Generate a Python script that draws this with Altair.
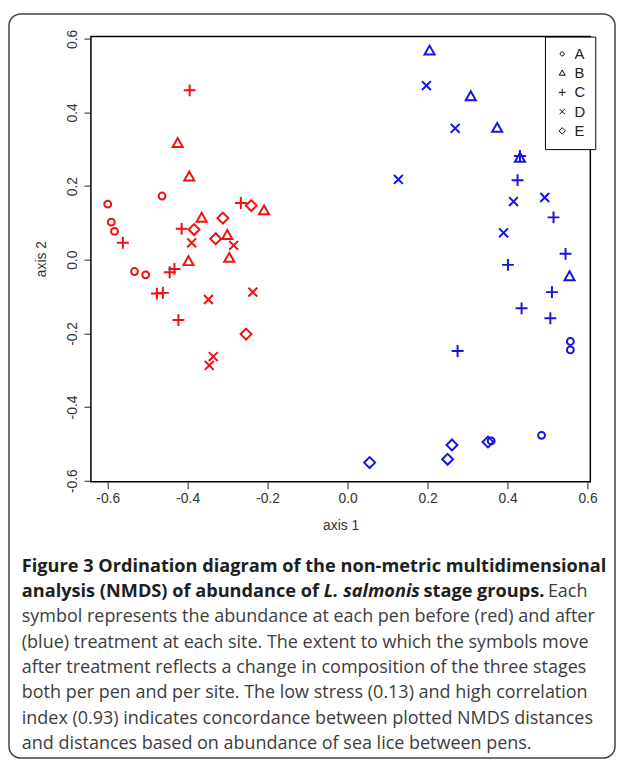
import altair as alt
import pandas as pd

# ---------------- data ----------------
stage_names = ["A", "B", "C", "D", "E"]
time_names = ["before", "after"]

# before treatment (red)
before_A_x = [-0.600, -0.591, -0.583, -0.464, -0.533, -0.505]
before_A_y = [0.151, 0.102, 0.077, 0.173, -0.032, -0.041]
before_B_x = [-0.425, -0.396, -0.365, -0.209, -0.301, -0.398, -0.296]
before_B_y = [0.316, 0.225, 0.113, 0.133, 0.066, -0.005, 0.004]
before_C_x = [-0.395, -0.562, -0.267, -0.415, -0.445, -0.433, -0.477, -0.462, -0.423]
before_C_y = [0.460, 0.046, 0.154, 0.084, -0.034, -0.025, -0.092, -0.090, -0.164]
before_D_x = [-0.390, -0.285, -0.237, -0.348, -0.336, -0.346]
before_D_y = [0.046, 0.039, -0.088, -0.108, -0.263, -0.287]
before_E_x = [-0.241, -0.312, -0.384, -0.330, -0.254]
before_E_y = [0.147, 0.113, 0.082, 0.057, -0.202]

# after treatment (blue)
after_A_x = [0.557, 0.557, 0.359, 0.485]
after_A_y = [-0.222, -0.245, -0.492, -0.477]
after_B_x = [0.205, 0.308, 0.374, 0.431, 0.555]
after_B_y = [0.567, 0.443, 0.357, 0.276, -0.046]
after_C_x = [0.431, 0.425, 0.515, 0.545, 0.401, 0.511, 0.435, 0.507, 0.275]
after_C_y = [0.282, 0.216, 0.115, 0.016, -0.014, -0.088, -0.132, -0.159, -0.248]
after_D_x = [0.197, 0.269, 0.127, 0.415, 0.493, 0.390]
after_D_y = [0.473, 0.357, 0.218, 0.158, 0.169, 0.073]
after_E_x = [0.055, 0.261, 0.250, 0.351]
after_E_y = [-0.551, -0.503, -0.542, -0.495]

tick_values = [-0.6, -0.4, -0.2, 0.0, 0.2, 0.4, 0.6]

caption_line1 = "Figure 3 Ordination diagram of the non-metric multidimensional"
caption_line2 = ["analysis (NMDS) of abundance of", "L. salmonis", "stage groups.", "Each"]
caption_rest = [
    "symbol represents the abundance at each pen before (red) and after",
    "(blue) treatment at each site. The extent to which the symbols move",
    "after treatment reflects a change in composition of the three stages",
    "both per pen and per site. The low stress (0.13) and high correlation",
    "index (0.93) indicates concordance between plotted NMDS distances",
    "and distances based on abundance of sea lice between pens.",
]

# ---------------- table ----------------
rows = []
groups = {
    "before": {"A": (before_A_x, before_A_y), "B": (before_B_x, before_B_y),
               "C": (before_C_x, before_C_y), "D": (before_D_x, before_D_y),
               "E": (before_E_x, before_E_y)},
    "after": {"A": (after_A_x, after_A_y), "B": (after_B_x, after_B_y),
              "C": (after_C_x, after_C_y), "D": (after_D_x, after_D_y),
              "E": (after_E_x, after_E_y)},
}
for t, d in groups.items():
    for s, (xs, ys) in d.items():
        for xv, yv in zip(xs, ys):
            rows.append({"axis1": xv, "axis2": yv, "stage": s, "time": t})
df = pd.DataFrame(rows)

# R-like symbols (pch 1..5) as paths
shape_paths = [
    "M0.58,0A0.58,0.58,0,1,1,-0.58,0A0.58,0.58,0,1,1,0.58,0Z",
    "M0,-0.9L0.85,0.6L-0.85,0.6Z",
    "M-1,0L1,0M0,-1L0,1",
    "M-0.75,-0.75L0.75,0.75M-0.75,0.75L0.75,-0.75",
    "M0,-0.92L0.92,0L0,0.92L-0.92,0Z",
]

label_expr = "datum.value < 0 ? '-' + format(-datum.value, '.1f') : format(datum.value, '.1f')"

points = alt.Chart(df).mark_point(filled=False, size=144, strokeWidth=2, opacity=1).encode(
    x=alt.X("axis1:Q",
            scale=alt.Scale(domain=[-0.642, 0.607], nice=False, zero=False),
            axis=alt.Axis(values=tick_values, title="axis 1", labelExpr=label_expr,
                          labelPadding=3, labelFlush=False, labelOverlap=False,
                          titleY=44, titleBaseline="middle")),
    y=alt.Y("axis2:Q",
            scale=alt.Scale(domain=[-0.603, 0.606], nice=False, zero=False),
            axis=alt.Axis(values=tick_values, title="axis 2", labelExpr=label_expr,
                          labelAngle=270, labelAlign="center", labelBaseline="bottom",
                          labelPadding=5, labelFlush=False, labelOverlap=False,
                          titleX=-50, titleY=225, titleAngle=270, titleBaseline="middle")),
    shape=alt.Shape("stage:N",
                    scale=alt.Scale(domain=stage_names, range=shape_paths),
                    legend=alt.Legend(title=None, orient="none", legendX=460, legendY=0,
                                      direction="vertical", strokeColor="black",
                                      fillColor="white", padding=10, symbolSize=49,
                                      symbolStrokeWidth=1, symbolStrokeColor="black",
                                      symbolFillColor="transparent",
                                      labelFont="Liberation Sans", labelFontSize=15,
                                      labelColor="#222", labelOffset=5, rowPadding=3.5)),
    color=alt.Color("time:N",
                    scale=alt.Scale(domain=time_names, range=["#ee1111", "#1515dd"]),
                    legend=None),
)

one = alt.Data(values=[{}])


def text_layer(txt, x, y, weight="normal", style="normal", color="#3c3c3c", size=18.2):
    return alt.Chart(one).mark_text(
        text=txt, align="left", baseline="alphabetic", font="Open Sans",
        fontSize=size, fontWeight=weight, fontStyle=style, color=color,
    ).encode(x=alt.value(x), y=alt.value(y))


cap_x = -70
cap_y0 = 542
cap_dy = 25.7
bold_col = "#1e1e1e"
bsize = 18.4

layers = [points]
layers.append(text_layer(caption_line1, cap_x, cap_y0, weight="bold", color=bold_col, size=bsize))
y2 = cap_y0 + cap_dy
layers.append(text_layer(caption_line2[0], cap_x, y2, weight="bold", color=bold_col, size=bsize))
layers.append(text_layer(caption_line2[1], 236, y2, weight="bold", style="italic", color=bold_col, size=bsize))
layers.append(text_layer(caption_line2[2], 337, y2, weight="bold", color=bold_col, size=bsize))
layers.append(text_layer(caption_line2[3], 463, y2))
for i, line in enumerate(caption_rest):
    layers.append(text_layer(line, cap_x, cap_y0 + cap_dy * (i + 2)))

frame = alt.Chart(one).mark_rect(
    filled=False, stroke="#444", strokeWidth=1.5, cornerRadius=12
).encode(x=alt.value(-83), x2=alt.value(531), y=alt.value(-23), y2=alt.value(731))
layers.append(frame)

chart = alt.layer(*layers).properties(
    width=506, height=451,
    autosize=alt.AutoSizeParams(type="none"),
    padding={"left": 84, "top": 24, "right": 26, "bottom": 282},
    background="white",
).configure_view(stroke="black", strokeWidth=1.5).configure_axis(
    grid=False, domain=False, tickColor="#222", tickSize=7, tickWidth=1,
    labelFont="Liberation Sans", labelFontSize=14, labelColor="#333",
    titleFont="Liberation Sans", titleFontSize=14, titleFontWeight="normal",
    titleColor="#333",
)

chart.save("out.html", embed_options={"renderer": "svg", "actions": False})
